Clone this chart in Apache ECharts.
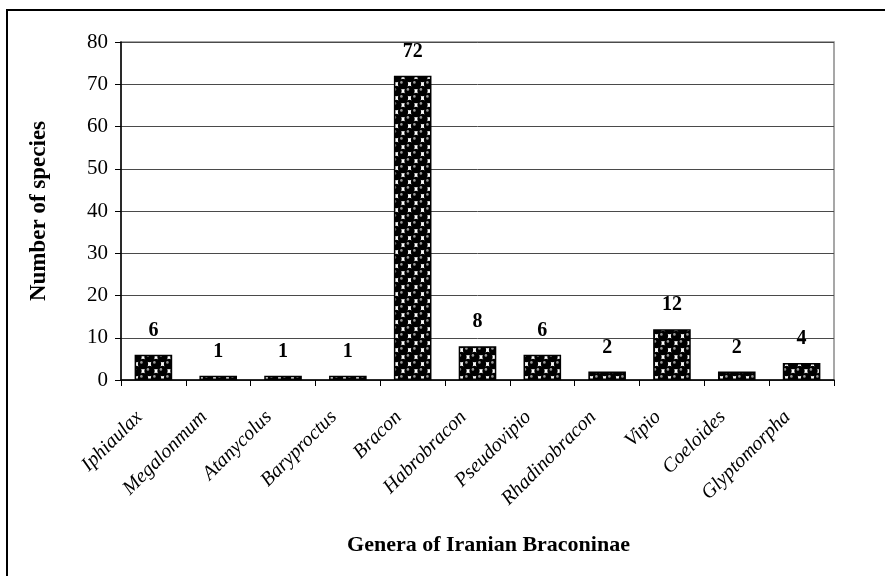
<!DOCTYPE html>
<html>
<head>
<meta charset="utf-8">
<script src="https://cdn.jsdelivr.net/npm/echarts@6/dist/echarts.min.js"></script>
<style>
  html, body { margin: 0; padding: 0; background: #fff; }
  #chart { width: 885px; height: 576px; }
</style>
</head>
<body>
<div id="chart"></div>
<script>
// data
const genera = ['Iphiaulax', 'Megalonmum', 'Atanycolus', 'Baryproctus', 'Bracon',
  'Habrobracon', 'Pseudovipio', 'Rhadinobracon', 'Vipio', 'Coeloides', 'Glyptomorpha'];
const speciesCount = [6, 1, 1, 1, 72, 8, 6, 2, 12, 2, 4];
const yTicks = [0, 10, 20, 30, 40, 50, 60, 70, 80];

const serif = '"Liberation Serif", "DejaVu Serif", serif';

// black "sphere" fill like the old office pattern
function spherePattern() {
  const w = 13, h = 14;
  const c = document.createElement('canvas');
  c.width = w;
  c.height = h;
  const ctx = c.getContext('2d');
  ctx.fillStyle = '#fff';
  ctx.fillRect(0, 0, w, h);
  const centres = [[0, 0], [w, 0], [0, h], [w, h], [w / 2, h / 2]];
  centres.forEach(([x, y]) => {
    ctx.beginPath();
    ctx.arc(x, y, 5.2, 0, Math.PI * 2);
    ctx.fillStyle = '#000';
    ctx.fill();
    ctx.beginPath();
    ctx.arc(x - 1.6, y - 1.6, 1.3, 0, Math.PI * 2);
    ctx.fillStyle = '#999';
    ctx.fill();
  });
  return c;
}

const chart = echarts.init(document.getElementById('chart'), null, { renderer: 'canvas' });

const option = {
  animation: false,
  textStyle: { fontFamily: serif, color: '#000' },
  grid: { left: 121, right: 51, top: 42, bottom: 196, show: true, borderColor: '#8a8a8a', borderWidth: 1.5 },
  graphic: [{
    type: 'rect',
    shape: { x: 7, y: 10, width: 900, height: 600 },
    style: { fill: 'none', stroke: '#000', lineWidth: 2 },
    silent: true
  }],
  xAxis: {
    type: 'category',
    data: genera,
    name: 'Genera of Iranian Braconinae',
    nameLocation: 'middle',
    nameGap: 154,
    nameTextStyle: { fontFamily: serif, fontSize: 22, fontWeight: 'bold', color: '#000', padding: [0, 0, 0, 22] },
    axisLine: { lineStyle: { color: '#000', width: 1.5 } },
    axisTick: { show: true, length: 6, lineStyle: { color: '#000' } },
    axisLabel: {
      rotate: 45, fontStyle: 'italic', fontSize: 20, fontFamily: serif, color: '#000',
      margin: 20, padding: [0, 20, 0, 0]
    }
  },
  yAxis: {
    type: 'value',
    min: yTicks[0],
    max: yTicks[yTicks.length - 1],
    interval: yTicks[1] - yTicks[0],
    name: 'Number of species',
    nameLocation: 'middle',
    nameGap: 70,
    nameTextStyle: { fontFamily: serif, fontSize: 23, fontWeight: 'bold', color: '#000' },
    axisLine: { show: true, lineStyle: { color: '#000', width: 1.5 } },
    axisTick: { show: true, length: 6, lineStyle: { color: '#000' } },
    axisLabel: { fontSize: 21, fontFamily: serif, color: '#000', margin: 13 },
    splitLine: { lineStyle: { color: '#4a4a4a', width: 1 } }
  },
  series: [{
    type: 'bar',
    data: speciesCount,
    barWidth: '58%',
    itemStyle: {
      color: { image: spherePattern(), repeat: 'repeat' },
      borderColor: '#000',
      borderWidth: 1.5
    },
    label: {
      show: true,
      position: 'top',
      distance: 14,
      fontFamily: serif,
      fontSize: 20,
      fontWeight: 'bold',
      color: '#000'
    }
  }]
};

chart.setOption(option);
</script>
</body>
</html>
